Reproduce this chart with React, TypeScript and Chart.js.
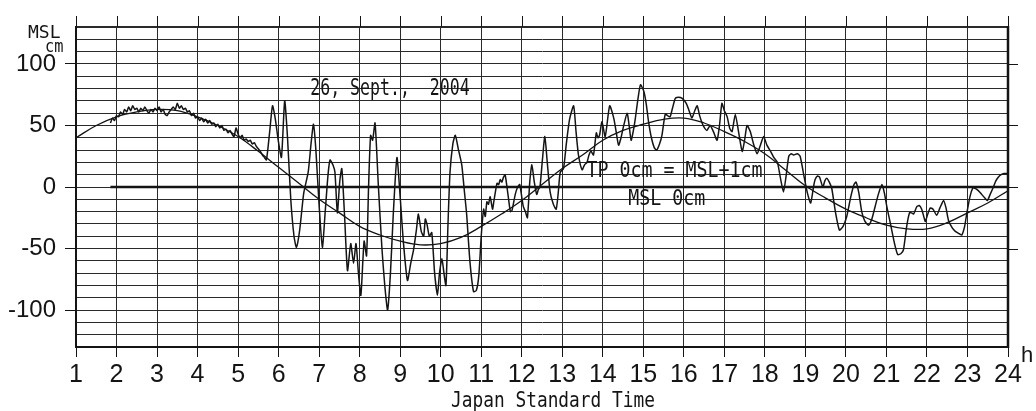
import { useEffect, useRef } from 'react';
import { Chart, registerables } from 'chart.js';

Chart.register(...registerables);

// Observed sea level (cm above MSL) against Japan Standard Time (hours)
const observedHours = [
  1.85, 1.9, 1.95, 2.0, 2.05, 2.1, 2.15, 2.2, 2.25, 2.3, 2.35, 2.4, 2.45, 2.5, 2.55, 2.6, 2.65, 2.7, 2.75, 2.8,
  2.85, 2.9, 2.95, 3.0, 3.05, 3.1, 3.15, 3.2, 3.25, 3.3, 3.35, 3.4, 3.45, 3.5, 3.55, 3.6, 3.65, 3.7, 3.75, 3.8,
  3.85, 3.9, 3.95, 4.0, 4.05, 4.1, 4.15, 4.2, 4.25, 4.3, 4.35, 4.4, 4.45, 4.5, 4.55, 4.6, 4.65, 4.7, 4.75, 4.8,
  4.85, 4.9, 4.95, 5.0, 5.05, 5.1, 5.15, 5.2, 5.25, 5.3, 5.35, 5.4, 5.45, 5.5, 5.55, 5.6, 5.65,
  5.7, 5.78, 5.85, 5.92, 5.99, 6.07, 6.15, 6.22, 6.3, 6.38, 6.44, 6.52, 6.62, 6.73, 6.8, 6.86, 6.92, 7.0, 7.08, 7.15,
  7.22, 7.27, 7.34, 7.39, 7.45, 7.51, 7.56, 7.63, 7.7, 7.78, 7.85, 7.91, 7.97, 8.03, 8.11, 8.17, 8.22, 8.27, 8.32, 8.38,
  8.46, 8.55, 8.62, 8.69, 8.76, 8.83, 8.92, 9.0, 9.08, 9.18, 9.26, 9.33, 9.4, 9.45, 9.52, 9.58, 9.62, 9.66, 9.72, 9.78,
  9.85, 9.92, 9.97, 10.03, 10.08, 10.13, 10.18, 10.23, 10.3, 10.36, 10.44, 10.52, 10.58, 10.64, 10.72, 10.81, 10.88, 10.94, 11.0, 11.06,
  11.1, 11.14, 11.18, 11.22, 11.28, 11.31, 11.36, 11.39, 11.43, 11.47, 11.51, 11.55, 11.59, 11.66, 11.72, 11.76, 11.84, 11.9, 11.95, 12.0,
  12.04, 12.09, 12.14, 12.2, 12.25, 12.31, 12.37, 12.41, 12.45, 12.51, 12.57, 12.63, 12.7, 12.78, 12.85, 12.9, 12.95, 13.03, 13.1, 13.18,
  13.28, 13.34, 13.4, 13.49, 13.55, 13.61, 13.66, 13.71, 13.77, 13.84, 13.88, 13.92, 13.98, 14.06, 14.17, 14.27, 14.33, 14.39, 14.45, 14.51,
  14.6, 14.65, 14.7, 14.75, 14.8, 14.87, 14.93, 15.01, 15.07, 15.13, 15.2, 15.27, 15.33, 15.4, 15.46, 15.54, 15.6, 15.66, 15.72, 15.79,
  15.87, 15.96, 16.06, 16.13, 16.2, 16.27, 16.33, 16.39, 16.45, 16.51, 16.57, 16.65, 16.73, 16.82, 16.88, 16.94, 17.0, 17.07, 17.13, 17.19,
  17.27, 17.35, 17.44, 17.5, 17.56, 17.64, 17.72, 17.81, 17.89, 17.97, 18.05, 18.14, 18.22, 18.31, 18.38, 18.46, 18.52, 18.59, 18.65, 18.71,
  18.8, 18.87, 18.97, 19.05, 19.13, 19.2, 19.24, 19.3, 19.35, 19.43, 19.48, 19.53, 19.59, 19.65, 19.74, 19.84, 19.93, 20.02, 20.12, 20.2,
  20.25, 20.32, 20.39, 20.47, 20.56, 20.64, 20.72, 20.8, 20.89, 20.95, 21.01, 21.1, 21.2, 21.28, 21.36, 21.42, 21.5, 21.57, 21.62, 21.67,
  21.75, 21.81, 21.87, 21.93, 21.96, 22.02, 22.08, 22.15, 22.24, 22.32, 22.41, 22.47, 22.53, 22.62, 22.7, 22.8, 22.86, 22.93, 22.98, 23.06,
  23.13, 23.18, 23.23, 23.3, 23.35, 23.43, 23.49, 23.56, 23.64, 23.7, 23.76, 23.83, 23.9, 24.0,
];
const observedLevels = [
  52, 56, 54, 58, 57, 61, 59, 63, 61, 65, 62, 66, 63, 64, 61, 64, 62, 65, 62, 60,
  63, 61, 64, 62, 65, 61, 63, 59, 58, 61, 63, 65, 63, 68, 64, 66, 63, 64, 61, 62,
  58, 60, 56, 57, 54, 56, 53, 55, 52, 54, 51, 52, 49, 51, 48, 50, 46, 47, 44, 46,
  43, 41, 48, 43, 40, 42, 38, 39, 37, 38, 35, 36, 33, 31, 29, 26, 24,
  22, 45, 66, 55, 38, 24, 70, 40, -10, -40, -49, -35, -5, 12, 35, 51, 30, -15, -49, -20,
  10, 22, 18, 12, -21, 5, 15, -25, -68, -46, -62, -46, -70, -88, -44, -56, 0, 42, 38, 52,
  2, -50, -80, -100, -70, -22, 24, -8, -45, -76, -62, -51, -35, -22, -36, -40, -26, -30, -40, -37,
  -70, -88, -70, -58, -70, -80, -30, 12, 35, 42, 30, 18, -2, -22, -60, -85, -84, -72, -40, -18,
  -24, -12, -14, -8, -18, -12, -2, 3, 2, 6, 4, 8, 10, -6, -20, -19, -6, 0, 2, -8,
  -16, -20, -25, 5, 18, 4, -6, -2, 0, 22, 41, 20, -4, -14, -18, -5, 12, 15, 35, 55,
  66, 45, 26, 14, 18, 20, 26, 29, 26, 44, 40, 42, 53, 41, 66, 56, 45, 34, 40, 49,
  60, 50, 38, 45, 55, 72, 83, 78, 68, 53, 40, 32, 30, 35, 42, 59, 58, 57, 64, 72,
  73, 72, 68, 62, 56, 62, 66, 58, 52, 48, 46, 50, 45, 38, 50, 68, 62, 57, 48, 45,
  59, 45, 29, 38, 50, 45, 35, 27, 34, 41, 34, 29, 24, 20, 8, -4, 8, 25, 27, 26,
  27, 25, 8, -5, -13, 0, 6, 9, 8, 0, 5, 7, 4, -1, -20, -35, -32, -24, -8, 2,
  4, -5, -20, -28, -31, -26, -16, -6, 2, -5, -16, -30, -46, -55, -54, -51, -32, -21, -21, -22,
  -16, -15, -18, -25, -28, -22, -17, -18, -23, -17, -11, -17, -27, -33, -36, -38, -39, -32, -22, -8,
  -1, -1, -2, -4, -6, -9, -11, -6, 0, 5, 8, 10, 11, 11,
];

// Predicted astronomical tide (cm above MSL)
const tideHours = [
  1, 1.5, 2, 2.5, 3, 3.5, 4, 4.5, 5, 5.5, 6, 6.5, 7, 7.5, 8, 8.5, 9, 9.5, 10, 10.5, 11, 11.5, 12, 12.5,
  13, 13.5, 14, 14.5, 15, 15.5, 16, 16.5, 17, 17.5, 18, 18.5, 19, 19.5, 20, 20.5, 21, 21.5, 22, 22.5, 23, 23.5, 24,
];
const tideLevels = [
  40, 50, 57, 61, 63, 62, 57, 50, 41, 29, 16, 3, -10, -21, -32, -39, -44, -47, -46, -41, -32, -22, -11, 2,
  15, 26, 38, 46, 51, 55, 56, 52, 45, 37, 27, 14, 1, -9, -18, -25, -31, -34, -34, -29, -21, -13, -3,
];

// Datum line (MSL 0 cm)
const datumHours = [1.85, 24];
const datumLevels = [0, 0];

// Axis labelling
const levelLabels = [100, 50, 0, -50, -100];
const rightTickLevels = [100, 50, 0, -50];

const INK = '#141414';
const GRID = '#2a2a2a';
const MONO = '"DejaVu Sans Mono", monospace';

function squeezedText(
  ctx: CanvasRenderingContext2D,
  text: string,
  x: number,
  y: number,
  size: number,
  sx: number,
  family: string,
  align: CanvasTextAlign = 'left',
) {
  ctx.save();
  ctx.translate(x, y);
  ctx.scale(sx, 1);
  ctx.font = `${size}px ${family}`;
  ctx.textAlign = align;
  ctx.textBaseline = 'alphabetic';
  ctx.fillStyle = INK;
  ctx.fillText(text, 0, 0);
  ctx.restore();
}

const decorations = {
  id: 'decorations',
  afterDraw(chart: any) {
    const { ctx, chartArea: a, scales } = chart;
    const x = scales.x;
    const y = scales.y;
    ctx.save();
    ctx.strokeStyle = INK;
    ctx.lineWidth = 1;
    // hour ticks above the frame
    for (let h = 1; h <= 24; h++) {
      const px = Math.round(x.getPixelForValue(h)) + 0.5;
      ctx.beginPath();
      ctx.moveTo(px, a.top - 11);
      ctx.lineTo(px, a.top);
      ctx.stroke();
    }
    // level ticks on the right side
    for (const v of rightTickLevels) {
      const py = Math.round(y.getPixelForValue(v)) + 0.5;
      ctx.beginPath();
      ctx.moveTo(a.right, py);
      ctx.lineTo(a.right + 10, py);
      ctx.stroke();
    }
    // heavy right edge
    ctx.lineWidth = 2.5;
    ctx.beginPath();
    ctx.moveTo(a.right, a.top - 1);
    ctx.lineTo(a.right, a.bottom + 1);
    ctx.stroke();
    ctx.restore();

    // unit labels
    squeezedText(ctx, 'MSL', 28, 38, 18, 1.0, MONO);
    squeezedText(ctx, 'cm', 45, 52, 18, 0.85, MONO);
    squeezedText(ctx, 'h', 1021, 362, 22, 1.0, '"Liberation Sans", Arial, sans-serif');

    // annotations inside the plot
    squeezedText(ctx, '26, Sept.,  2004', x.getPixelForValue(6.78), y.getPixelForValue(74.7), 23, 0.72, MONO);
    squeezedText(ctx, 'TP 0cm = MSL+1cm', x.getPixelForValue(13.6), y.getPixelForValue(8.1), 21, 0.87, MONO);
    squeezedText(ctx, 'MSL 0cm', x.getPixelForValue(14.63), y.getPixelForValue(-14.6), 21, 0.87, MONO);

    // axis title
    squeezedText(ctx, 'Japan Standard Time', 553, 407, 20.5, 0.87, MONO, 'center');
  },
};

export default function App() {
  const canvasRef = useRef<HTMLCanvasElement | null>(null);

  useEffect(() => {
    const canvas = canvasRef.current;
    if (!canvas) return;
    const toPoints = (xs: number[], ys: number[]) => xs.map((h, i) => ({ x: h, y: ys[i] }));

    const chart = new Chart(canvas, {
      type: 'line',
      data: {
        datasets: [
          {
            label: 'observed',
            data: toPoints(observedHours, observedLevels),
            borderColor: INK,
            borderWidth: 1.5,
            pointRadius: 0,
            tension: 0.2,
          },
          {
            label: 'tide',
            data: toPoints(tideHours, tideLevels),
            borderColor: INK,
            borderWidth: 1.3,
            pointRadius: 0,
            tension: 0.4,
          },
          {
            label: 'MSL',
            data: toPoints(datumHours, datumLevels),
            borderColor: INK,
            borderWidth: 2.5,
            pointRadius: 0,
            tension: 0,
          },
        ],
      },
      options: {
        animation: false,
        responsive: false,
        maintainAspectRatio: false,
        layout: { padding: { top: 27, right: 28, left: 0, bottom: 0 } },
        plugins: { legend: { display: false }, tooltip: { enabled: false } },
        scales: {
          x: {
            type: 'linear',
            min: 1,
            max: 24,
            ticks: {
              stepSize: 1,
              autoSkip: false,
              maxRotation: 0,
              padding: 3,
              color: INK,
              font: { family: '"Liberation Sans", Arial, sans-serif', size: 25 },
              callback: (v: any) => String(v),
            },
            grid: {
              color: GRID,
              lineWidth: 1,
              tickLength: 10,
              tickColor: INK,
            },
            border: { color: INK, width: 2 },
            afterFit: (s: any) => {
              s.height = 64;
            },
          },
          y: {
            min: -130,
            max: 130,
            ticks: {
              stepSize: 10,
              autoSkip: false,
              padding: 9,
              color: INK,
              font: { family: '"Liberation Sans", Arial, sans-serif', size: 24 },
              callback: (v: any) => (levelLabels.includes(v) ? String(v) : ''),
            },
            grid: {
              color: GRID,
              lineWidth: (c: any) => (c.tick && c.tick.value === 130 ? 2 : 1),
              tickLength: 11,
              tickColor: (c: any) => (c.tick && levelLabels.includes(c.tick.value) ? INK : 'rgba(0,0,0,0)'),
            },
            border: { color: INK, width: 2 },
            afterFit: (s: any) => {
              s.width = 76;
            },
          },
        },
      },
      plugins: [decorations],
    });

    return () => chart.destroy();
  }, []);

  return (
    <div style={{ position: 'absolute', left: 0, top: 0, width: 1036, height: 411, background: '#fff' }}>
      <canvas ref={canvasRef} width={1036} height={411} style={{ display: 'block' }} />
    </div>
  );
}
